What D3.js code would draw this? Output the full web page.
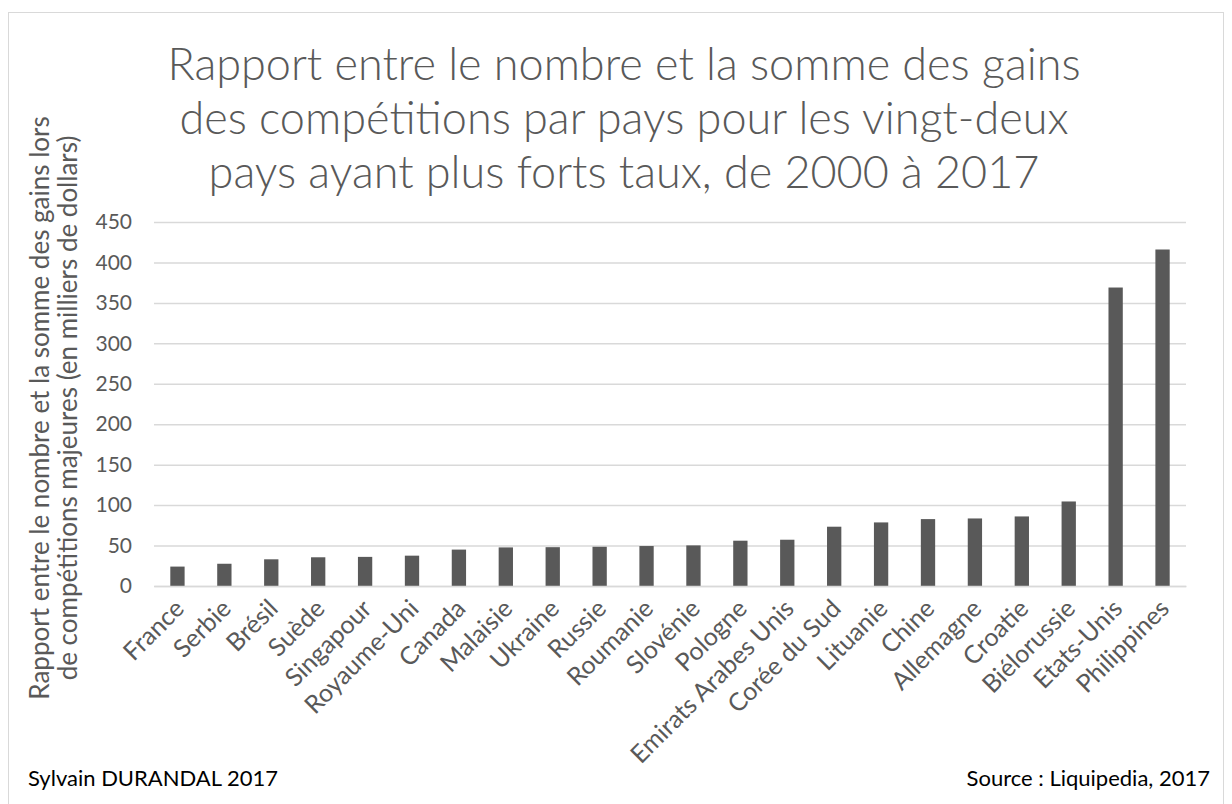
<!DOCTYPE html>
<html>
<head>
<meta charset="utf-8">
<script src="https://cdn.jsdelivr.net/npm/d3@7"></script>
<style>
  body { margin: 0; background: #fff; }
  svg { font-family: Lato, "Open Sans", sans-serif; }
</style>
</head>
<body>
<script>
// Donnees
const pays = ['France', 'Serbie', 'Brésil', 'Suède', 'Singapour', 'Royaume-Uni',
  'Canada', 'Malaisie', 'Ukraine', 'Russie', 'Roumanie', 'Slovénie', 'Pologne',
  'Emirats Arabes Unis', 'Corée du Sud', 'Lituanie', 'Chine', 'Allemagne',
  'Croatie', 'Biélorussie', 'Etats-Unis', 'Philippines']

const rapport = [24, 27.5, 33, 35.5, 36, 37.5, 45, 47.7, 48, 48.5, 49.4, 50.2,
  56, 57.2, 73.3, 78.6, 82.7, 83.5, 86, 104.5, 369, 416]

const ticksY = [0, 50, 100, 150, 200, 250, 300, 350, 400, 450]

const titre = ['Rapport entre le nombre et la somme des gains',
  'des compétitions par pays pour les vingt-deux',
  'pays ayant plus forts taux, de 2000 à 2017']

const titreY = ['Rapport entre le nombre et la somme des gains lors',
  'de compétitions majeures (en milliers de dollars)']

// dimensions
const W = 1232, H = 804
const margem = {haut: 222, droite: 46, bas: 218, gauche: 154}
const largeur = W - margem.gauche - margem.droite
const hauteur = H - margem.haut - margem.bas

const gris = '#595959'

const svg = d3.select('body').append('svg')
  .attr('width', W)
  .attr('height', H)

// cadre du graphique
svg.append('rect')
  .attr('x', 8.5).attr('y', 12.5)
  .attr('width', 1215).attr('height', 800)
  .attr('fill', 'none')
  .attr('stroke', '#d9d9d9')
  .attr('stroke-width', 1)

const g = svg.append('g')
  .attr('transform', 'translate(' + margem.gauche + ',' + margem.haut + ')')

// echelles
const x = d3.scaleBand()
  .domain(pays)
  .range([0, largeur])
  .paddingInner(0.695)
  .paddingOuter(0.3475)

const y = d3.scaleLinear()
  .domain([0, 450])
  .range([hauteur, 0])

// grille horizontale
const axeY = d3.axisLeft(y)
  .tickValues(ticksY)
  .tickSize(-largeur)
  .tickPadding(22)

const gY = g.append('g').call(axeY)
gY.select('.domain').remove()
gY.selectAll('.tick line')
  .attr('stroke', '#d9d9d9')
  .attr('stroke-width', 1.5)
gY.selectAll('.tick text')
  .attr('fill', gris)
  .style('font-size', '21px')
  .style('font-family', 'Lato, sans-serif')

// barres
g.selectAll('.barre')
  .data(rapport)
  .enter().append('rect')
  .attr('class', 'barre')
  .attr('x', (d, i) => x(pays[i]))
  .attr('y', d => y(d))
  .attr('width', x.bandwidth())
  .attr('height', d => hauteur - y(d))
  .attr('fill', gris)

// axe des x
const axeX = d3.axisBottom(x).tickSize(0).tickPadding(0)
const gX = g.append('g')
  .attr('transform', 'translate(0,' + hauteur + ')')
  .call(axeX)
gX.select('.domain')
  .attr('stroke', '#d9d9d9')
  .attr('stroke-width', 1.5)
gX.selectAll('.tick text')
  .attr('fill', gris)
  .style('font-size', '25px')
  .style('font-family', 'Lato, sans-serif')
  .attr('text-anchor', 'end')
  .attr('dy', '0.35em')
  .attr('transform', 'translate(2,18) rotate(-45)')

// titre
svg.append('text')
  .attr('text-anchor', 'middle')
  .attr('fill', gris)
  .style('font-size', '45px')
  .style('font-weight', 300)
  .selectAll('tspan')
  .data(titre)
  .enter().append('tspan')
  .attr('x', 624)
  .attr('y', (d, i) => 80 + i * 54)
  .text(d => d)

// titre de l'axe y
svg.append('text')
  .attr('text-anchor', 'middle')
  .attr('fill', gris)
  .style('font-size', '26px')
  .attr('transform', 'translate(0,' + (margem.haut + hauteur / 2 + 4) + ') rotate(-90)')
  .selectAll('tspan')
  .data(titreY)
  .enter().append('tspan')
  .attr('x', 0)
  .attr('y', (d, i) => 49 + i * 28)
  .text(d => d)

// pied de page
svg.append('text')
  .attr('x', 28).attr('y', 786)
  .attr('fill', '#000')
  .style('font-size', '22px')
  .text('Sylvain DURANDAL 2017')

svg.append('text')
  .attr('x', 1210).attr('y', 786)
  .attr('text-anchor', 'end')
  .attr('fill', '#000')
  .style('font-size', '22px')
  .text('Source : Liquipedia, 2017')
</script>
</body>
</html>
